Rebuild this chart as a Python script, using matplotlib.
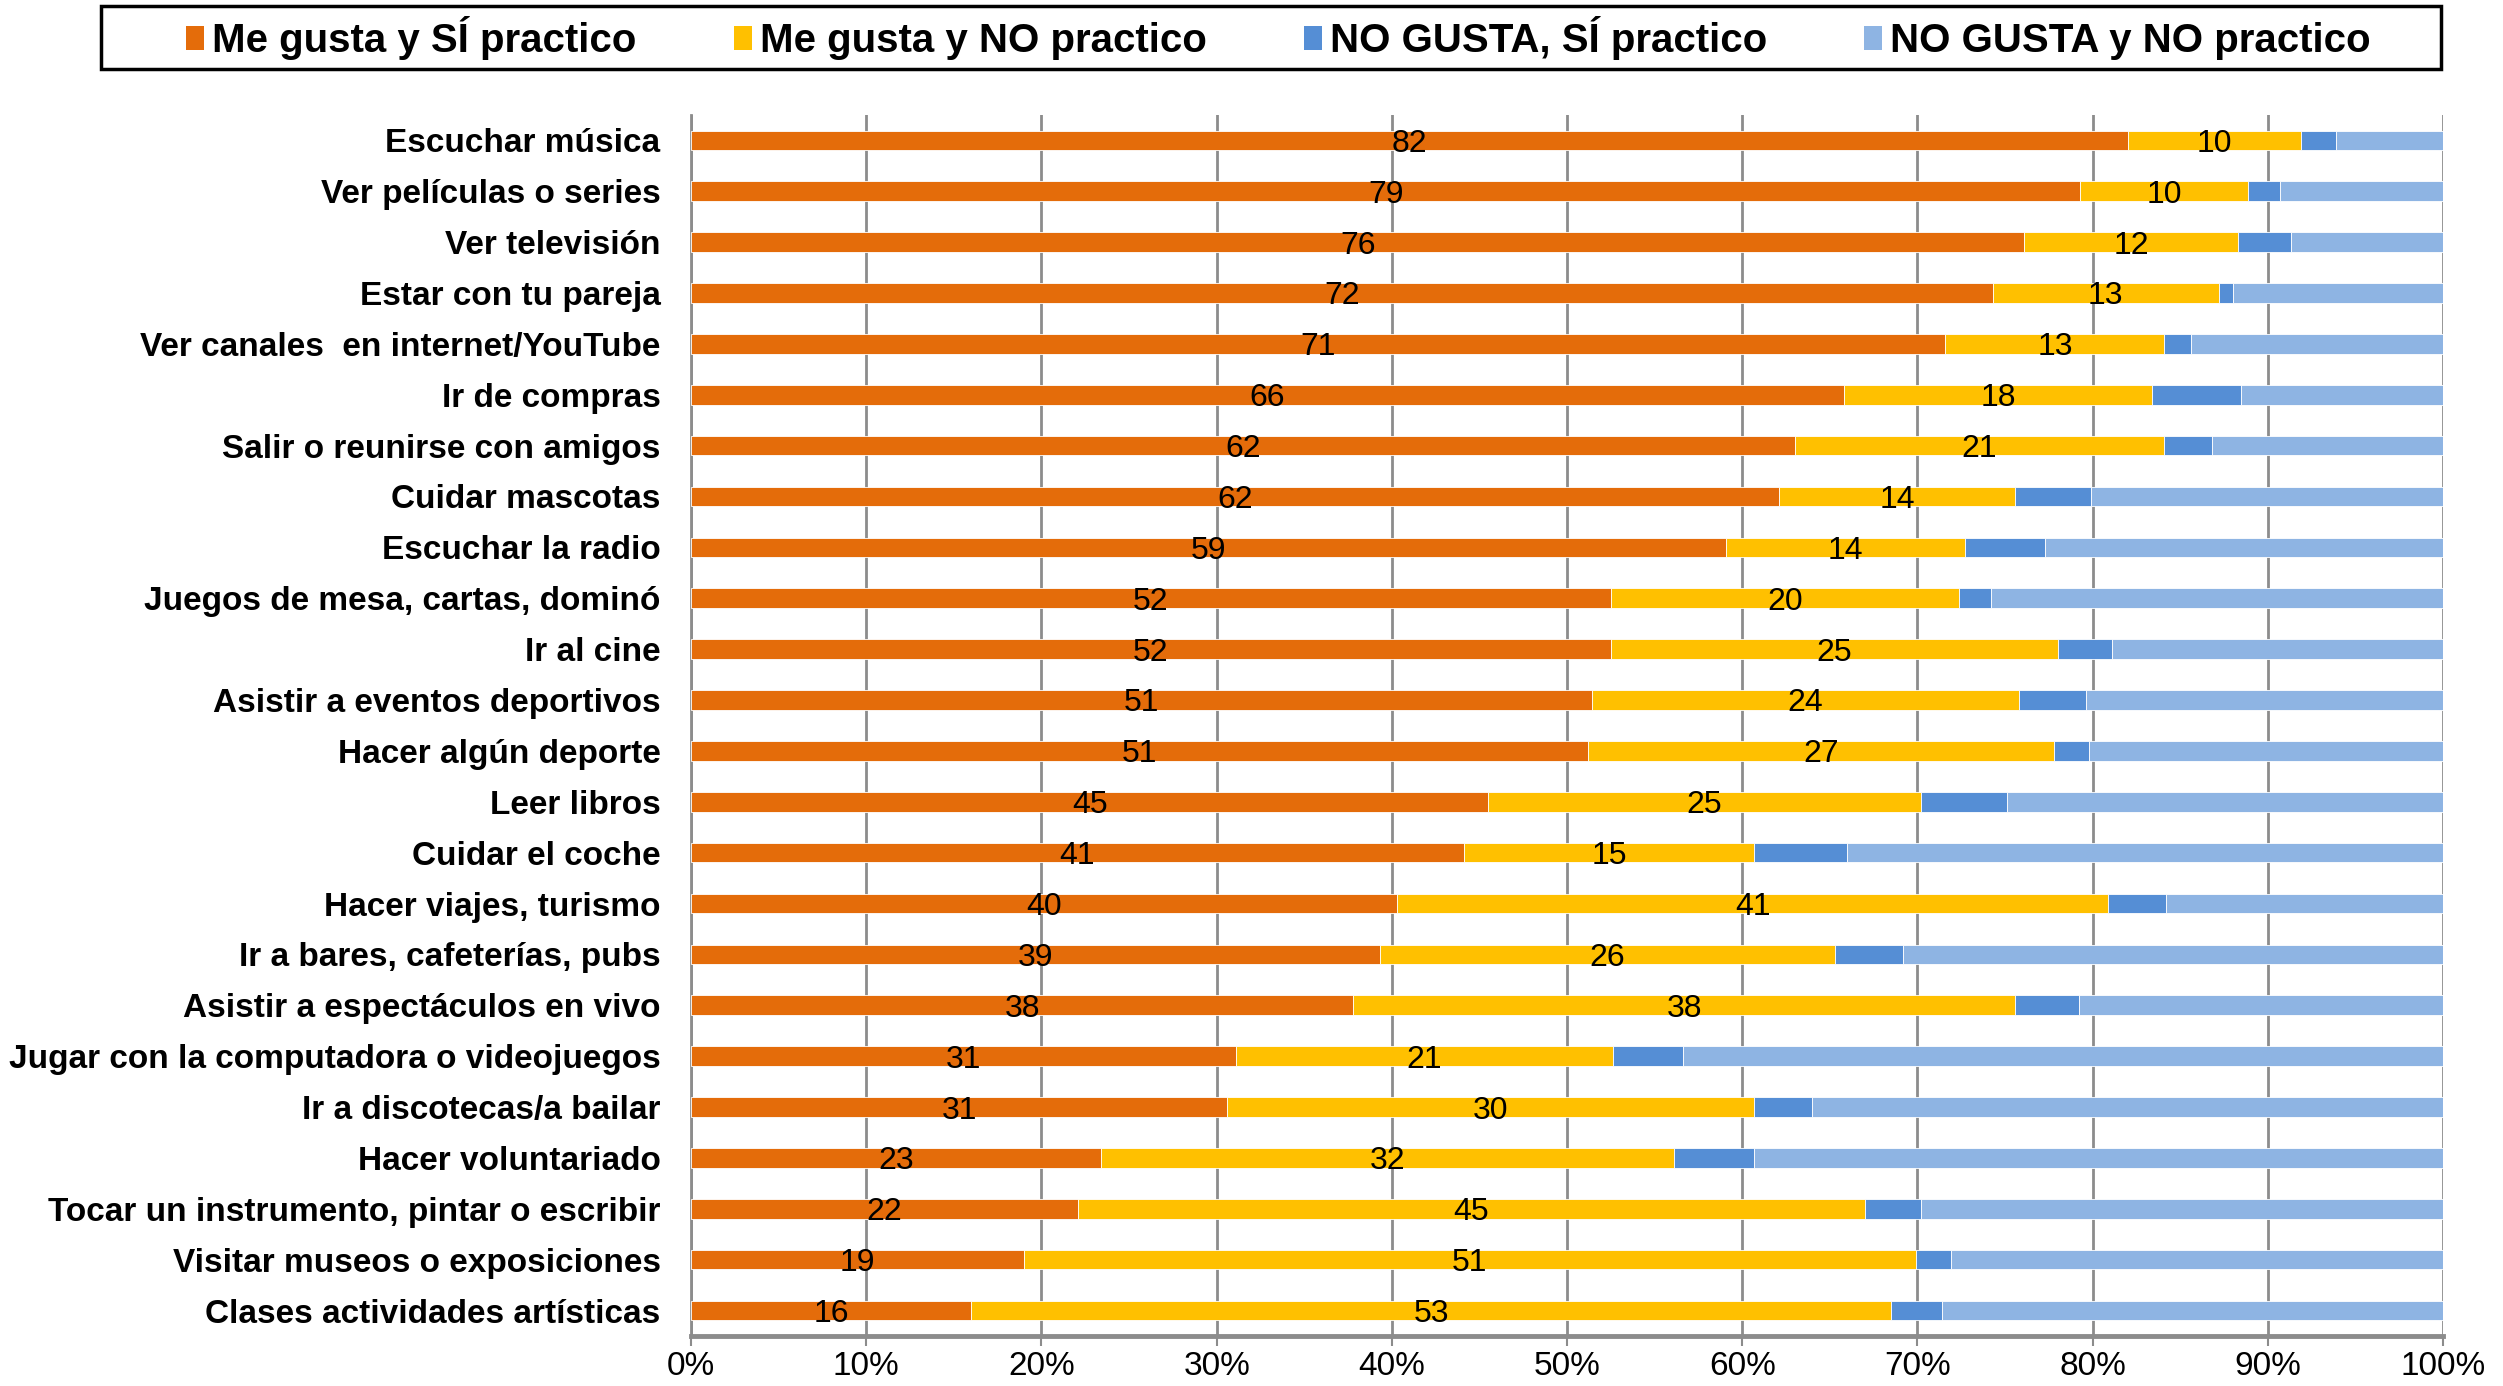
import matplotlib
matplotlib.use("Agg")
import matplotlib.pyplot as plt
from matplotlib.patches import Patch, Rectangle
import numpy as np

plt.rcParams['font.family'] = ['Liberation Sans', 'DejaVu Sans']

actividades = [
    "Escuchar música", "Ver películas o series", "Ver televisión",
    "Estar con tu pareja", "Ver canales  en internet/YouTube", "Ir de compras",
    "Salir o reunirse con amigos", "Cuidar mascotas", "Escuchar la radio",
    "Juegos de mesa, cartas, dominó", "Ir al cine", "Asistir a eventos deportivos",
    "Hacer algún deporte", "Leer libros", "Cuidar el coche",
    "Hacer viajes, turismo", "Ir a bares, cafeterías, pubs",
    "Asistir a espectáculos en vivo", "Jugar con la computadora o videojuegos",
    "Ir a discotecas/a bailar", "Hacer voluntariado",
    "Tocar un instrumento, pintar o escribir", "Visitar museos o exposiciones",
    "Clases actividades artísticas",
]

series = ["Me gusta y SÍ practico", "Me gusta y NO practico",
          "NO GUSTA, SÍ practico", "NO GUSTA y NO practico"]
colores = ["#E46C0A", "#FFC000", "#558ED5", "#8EB4E3"]

# porcentaje de cada barra (100% apilado)
gusta_si = [82.0, 79.3, 76.1, 74.3, 71.6, 65.8, 63.0, 62.1, 59.1, 52.5, 52.5, 51.4,
            51.2, 45.5, 44.1, 40.3, 39.3, 37.8, 31.1, 30.6, 23.4, 22.1, 19.0, 16.0]
gusta_no = [9.9, 9.6, 12.2, 12.9, 12.5, 17.6, 21.1, 13.5, 13.6, 19.9, 25.5, 24.4,
            26.6, 24.7, 16.6, 40.6, 26.0, 37.8, 21.5, 30.1, 32.7, 44.9, 50.9, 52.5]
nogusta_si = [2.0, 1.8, 3.0, 0.8, 1.5, 5.1, 2.7, 4.3, 4.6, 1.8, 3.1, 3.8,
              2.0, 4.9, 5.3, 3.3, 3.9, 3.6, 4.0, 3.3, 4.6, 3.2, 2.0, 2.9]
nogusta_no = [6.1, 9.3, 8.7, 12.0, 14.4, 11.5, 13.2, 20.1, 22.7, 25.8, 18.9, 20.4,
              20.2, 24.9, 34.0, 15.8, 30.8, 20.8, 43.4, 36.0, 39.3, 29.8, 28.1, 28.6]

# etiquetas que se muestran sobre las barras
etiq_si = [82, 79, 76, 72, 71, 66, 62, 62, 59, 52, 52, 51, 51, 45, 41, 40, 39, 38, 31, 31, 23, 22, 19, 16]
etiq_no = [10, 10, 12, 13, 13, 18, 21, 14, 14, 20, 25, 24, 27, 25, 15, 41, 26, 38, 21, 30, 32, 45, 51, 53]

fig = plt.figure(figsize=(25.03, 13.86), dpi=100)
ax = fig.add_axes([0.2761, 0.0361, 0.6999, 0.881])

y = np.arange(len(actividades))
datos = [gusta_si, gusta_no, nogusta_si, nogusta_no]
izq = np.zeros(len(actividades))
barras = []
for vals, col in zip(datos, colores):
    vals = np.array(vals)
    ax.barh(y, vals, left=izq, height=0.385, color=col, edgecolor='white',
            linewidth=0.6, zorder=3)
    barras.append((izq.copy(), vals))
    izq = izq + vals

for i in range(len(actividades)):
    l0, v0 = barras[0][0][i], barras[0][1][i]
    l1, v1 = barras[1][0][i], barras[1][1][i]
    ax.text(l0 + v0 / 2, y[i], str(etiq_si[i]), ha='center', va='center_baseline',
            fontsize=23, color='black', zorder=4)
    ax.text(l1 + v1 / 2, y[i], str(etiq_no[i]), ha='center', va='center_baseline',
            fontsize=23, color='black', zorder=4)

ax.set_xlim(0, 100)
ax.set_ylim(len(actividades) - 0.5, -0.5)
ax.set_yticks(y)
ax.set_yticklabels(actividades, fontsize=24, fontweight='bold')
ax.set_xticks(np.arange(0, 101, 10))
ax.set_xticklabels([f"{v}%" for v in range(0, 101, 10)], fontsize=24)
ax.tick_params(axis='y', length=0, pad=22)
ax.tick_params(axis='x', length=7, width=1.5, color='#8c8c8c', pad=4)

ax.xaxis.grid(True, color='#8c8c8c', linewidth=2, zorder=0)
ax.set_axisbelow(True)
ax.spines['top'].set_visible(False)
ax.spines['right'].set_visible(False)
ax.spines['left'].set_color('#8c8c8c')
ax.spines['left'].set_linewidth(2)
ax.spines['bottom'].set_color('#8c8c8c')
ax.spines['bottom'].set_linewidth(3.5)

# marco de la leyenda
marco = Rectangle((0.0402, 0.9505), 0.9349, 0.0449, transform=fig.transFigure,
                  fill=False, edgecolor='black', linewidth=2.5)
fig.patches.append(marco)

handles = [Patch(facecolor=c, edgecolor='none') for c in colores]
fig.legend(handles, series, loc='center', bbox_to_anchor=(0.5108, 0.9725), ncol=4,
           frameon=False, prop={'size': 29, 'weight': 'bold'},
           handlelength=0.44, handleheight=0.55, handletextpad=0.2,
           columnspacing=2.42, borderpad=0.2)

fig.savefig("out.png", dpi=100)
